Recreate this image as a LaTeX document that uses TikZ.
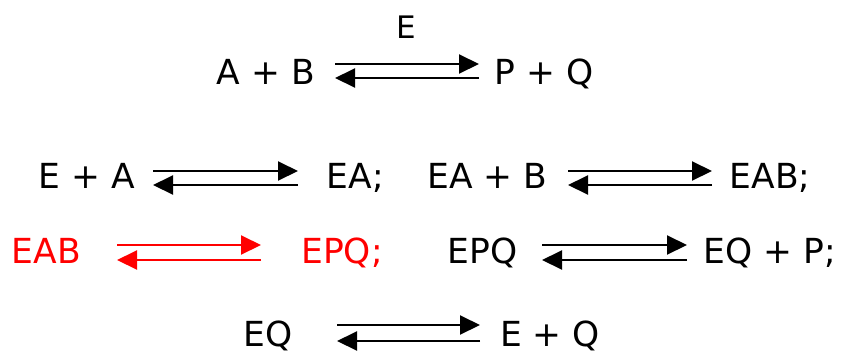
\documentclass[tikz,border=0pt]{standalone}
\usepackage{fontspec}
\setmainfont{DejaVu Sans}
\usetikzlibrary{arrows.meta}
\begin{document}
\begin{tikzpicture}[x=1pt,y=-1pt,
  lbl/.style={anchor=base,inner sep=0pt,font=\fontsize{34.5}{40}\selectfont},
  rxn/.style={line width=2pt,-{Triangle[length=20pt,width=19pt]}},
  hl/.style={red}]
\useasboundingbox (0,0) rectangle (845,354);
% row 1
\node[lbl,font=\fontsize{31}{36}\selectfont] (e) at (406,38) {E};
\node[lbl] (ab) at (266,84) {A + B};
\node[lbl] (pq) at (544,84) {P + Q};
\coordinate (r1a) at (335,64); \coordinate (r1b) at (479,64);
\coordinate (r1c) at (479,78); \coordinate (r1d) at (335,78);
\draw[rxn] (r1a) -- (r1b);
\draw[rxn] (r1c) -- (r1d);
% row 2
\node[lbl] (ea0) at (86.5,188) {E + A};
\node[lbl] (ea1) at (355.5,188) {EA;};
\coordinate (r2a) at (153,171); \coordinate (r2b) at (298,171);
\coordinate (r2c) at (298,185); \coordinate (r2d) at (153,185);
\draw[rxn] (r2a) -- (r2b);
\draw[rxn] (r2c) -- (r2d);
\node[lbl] (eab0) at (487.5,188) {EA + B};
\node[lbl] (eab1) at (770,188) {EAB;};
\coordinate (r2e) at (568,171); \coordinate (r2f) at (712,171);
\coordinate (r2g) at (712,185); \coordinate (r2h) at (568,185);
\draw[rxn] (r2e) -- (r2f);
\draw[rxn] (r2g) -- (r2h);
% row 3
\node[lbl,hl] (epq0) at (46.5,263) {EAB};
\node[lbl,hl] (epq1) at (342,263) {EPQ;};
\coordinate (r3a) at (117,245); \coordinate (r3b) at (261,245);
\coordinate (r3c) at (261,260); \coordinate (r3d) at (117,260);
\draw[rxn,hl] (r3a) -- (r3b);
\draw[rxn,hl] (r3c) -- (r3d);
\node[lbl] (eqp0) at (482.5,263) {EPQ};
\node[lbl] (eqp1) at (770,263) {EQ + P;};
\coordinate (r3e) at (542,245); \coordinate (r3f) at (687,245);
\coordinate (r3g) at (687,260); \coordinate (r3h) at (542,260);
\draw[rxn] (r3e) -- (r3f);
\draw[rxn] (r3g) -- (r3h);
% row 4
\node[lbl] (eq0) at (268,346) {EQ};
\node[lbl] (eq1) at (550,346) {E + Q};
\coordinate (r4a) at (337,325); \coordinate (r4b) at (480,325);
\coordinate (r4c) at (480,341); \coordinate (r4d) at (337,341);
\draw[rxn] (r4a) -- (r4b);
\draw[rxn] (r4c) -- (r4d);
\end{tikzpicture}
\end{document}
